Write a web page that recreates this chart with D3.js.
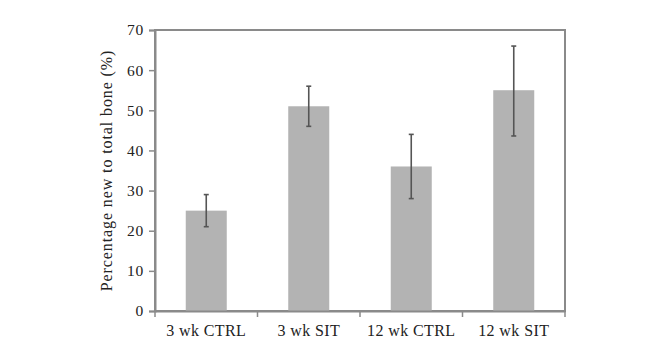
<!DOCTYPE html>
<html><head><meta charset="utf-8">
<script src="https://cdn.jsdelivr.net/npm/d3@7"></script>
<style>body{margin:0;background:#fff;} svg{display:block;}</style>
</head><body>
<svg id="c" width="648" height="360"></svg>
<script>
const categories = ["3 wk CTRL", "3 wk SIT", "12 wk CTRL", "12 wk SIT"];
const values = [25, 51, 36, 55];
const errLow = [21, 46, 28, 43.6];
const errHigh = [29, 56, 44, 66];
const yTicks = [0, 10, 20, 30, 40, 50, 60, 70];

const svg = d3.select("#c");
const m = {l:155, r:565, t:30, b:311};
const x = d3.scaleBand().domain(categories).range([m.l, m.r]).padding(0);
const y = d3.scaleLinear().domain([0,70]).range([m.b, m.t]);
const axisColor = "#8a8a8a";
const font = "'Liberation Serif', 'DejaVu Serif', serif";

// frame
svg.append("rect").attr("x", m.l).attr("y", m.t).attr("width", m.r-m.l).attr("height", m.b-m.t)
  .attr("fill","none").attr("stroke", axisColor).attr("stroke-width", 2);

// bars
const bw = x.bandwidth()*0.4;
svg.selectAll("rect.bar").data(values).join("rect").attr("class","bar")
  .attr("x",(d,i)=>x(categories[i])+x.bandwidth()/2-bw/2)
  .attr("y",d=>y(d)).attr("width",bw).attr("height",d=>y(0)-y(d))
  .attr("fill","#b3b3b3");

// y axis
const ya = svg.append("g").attr("transform",`translate(${m.l},0)`)
  .call(d3.axisLeft(y).tickValues(yTicks).tickSize(6).tickPadding(5));
ya.select(".domain").attr("stroke", axisColor).attr("stroke-width",2);
ya.selectAll(".tick line").attr("stroke", axisColor).attr("stroke-width",1.5);
ya.selectAll(".tick text").attr("font-family", font).attr("font-size", 15.5).attr("letter-spacing", 0.8).attr("fill","#222");

// x axis
const xa = svg.append("g").attr("transform",`translate(0,${m.b})`)
  .call(d3.axisBottom(x).tickSize(0).tickPadding(14));
xa.select(".domain").attr("stroke", axisColor).attr("stroke-width",2);
xa.selectAll(".tick text").attr("font-family", font).attr("font-size", 16).attr("letter-spacing", 0.4).attr("fill","#222");
// category boundary ticks
const bounds = categories.map(c=>x(c)).concat([m.r]);
svg.selectAll("line.bt").data(bounds).join("line").attr("class","bt")
  .attr("x1",d=>d).attr("x2",d=>d).attr("y1",m.b).attr("y2",m.b+6)
  .attr("stroke", axisColor).attr("stroke-width",1.5);

// error bars
const eg = svg.append("g").attr("stroke","#555").attr("stroke-width",1.6);
categories.forEach((c,i)=>{
  const cx = x(c)+x.bandwidth()/2;
  eg.append("line").attr("x1",cx).attr("x2",cx).attr("y1",y(errLow[i])).attr("y2",y(errHigh[i]));
  [errLow[i], errHigh[i]].forEach(v=>{
    eg.append("line").attr("x1",cx-2.5).attr("x2",cx+2.5).attr("y1",y(v)).attr("y2",y(v));
  });
});

// y label
svg.append("text").attr("transform",`translate(112,${(m.t+m.b)/2}) rotate(-90)`)
  .attr("text-anchor","middle").attr("font-family",font).attr("font-size",16).attr("letter-spacing",0.9).attr("fill","#222")
  .text("Percentage new to total bone (%)");
</script>
</body></html>
